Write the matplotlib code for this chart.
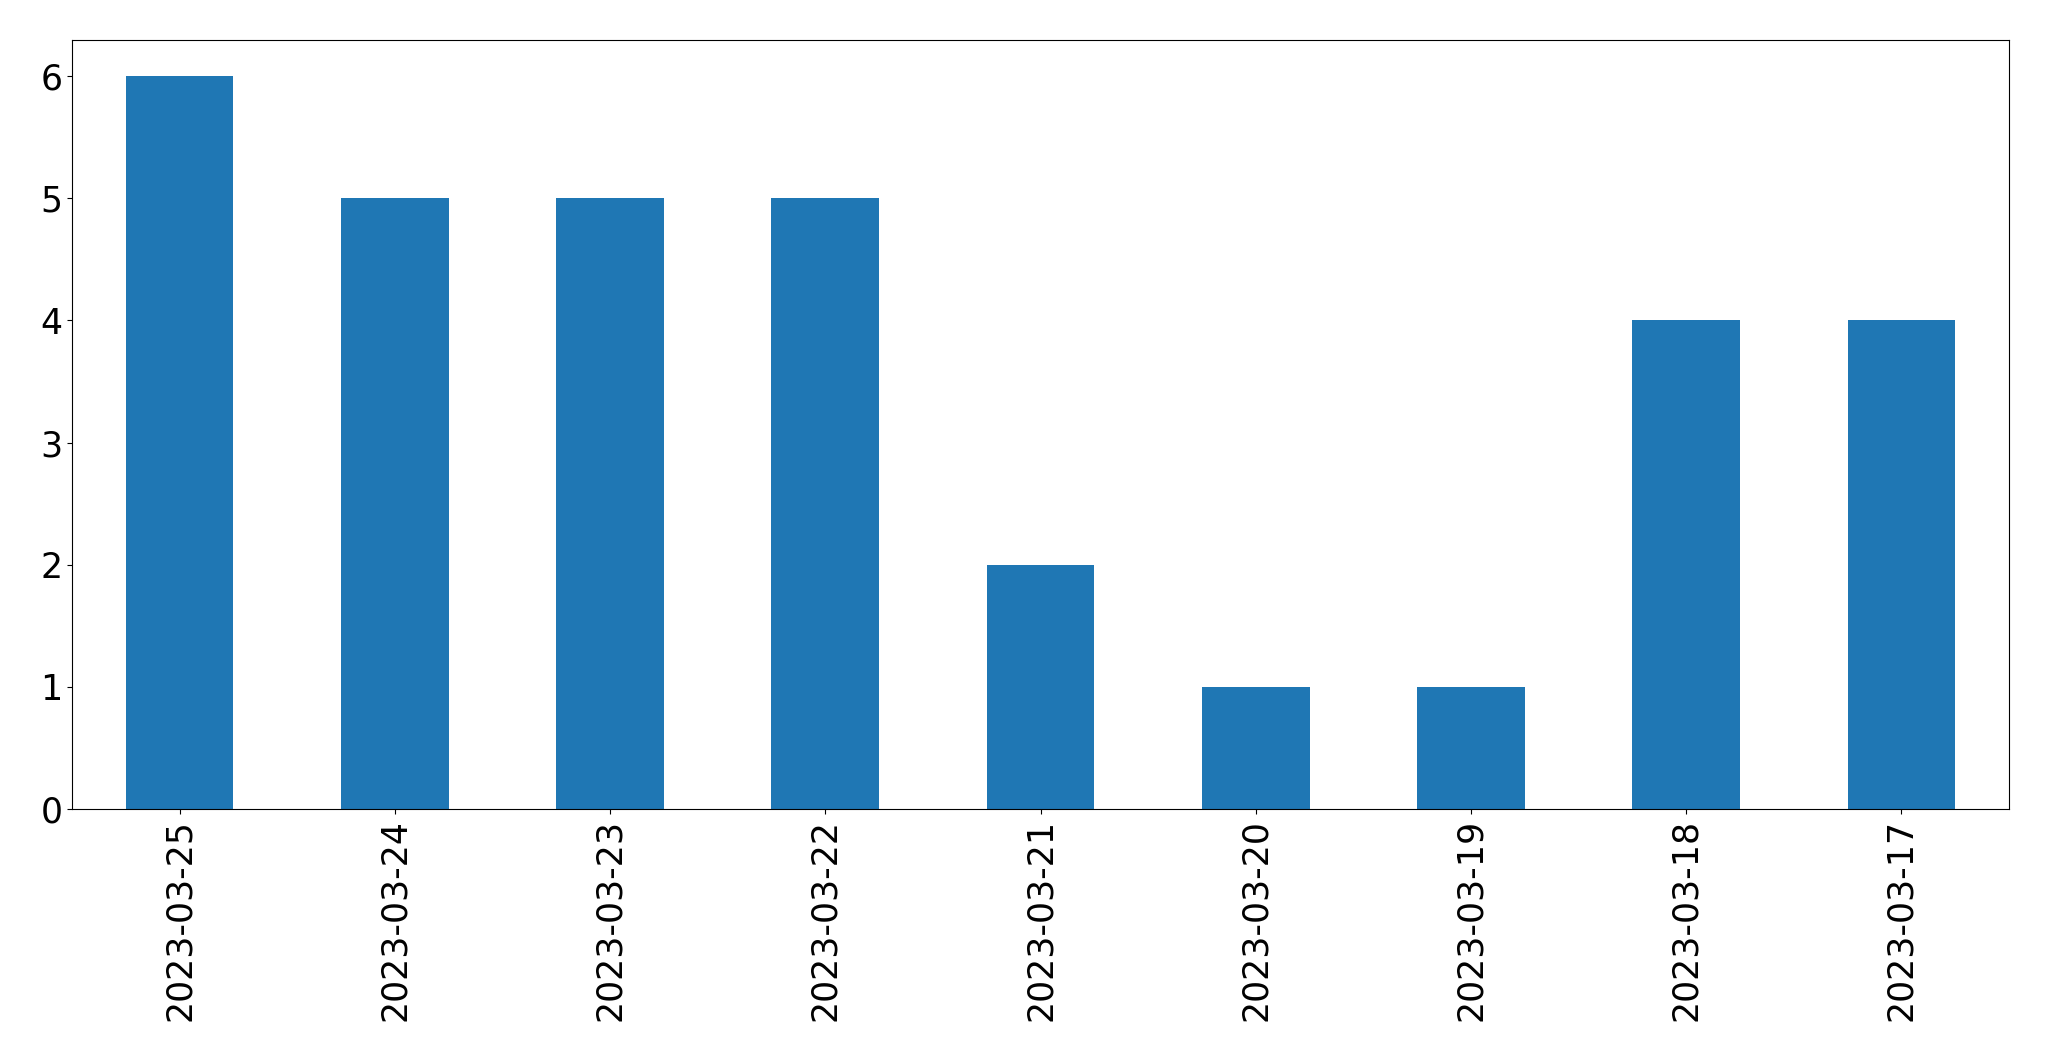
import matplotlib
matplotlib.use("Agg")
import matplotlib.pyplot as plt
import pandas as pd

# daily counts, newest first
dates = ["2023-03-25", "2023-03-24", "2023-03-23", "2023-03-22", "2023-03-21",
         "2023-03-20", "2023-03-19", "2023-03-18", "2023-03-17"]
counts = [6, 5, 5, 5, 2, 1, 1, 4, 4]

s = pd.Series(counts, index=dates)

fig = plt.figure(figsize=(20.49, 10.61), dpi=100)
ax = fig.add_axes([72 / 2049, 1 - 809 / 1061, (2009 - 72) / 2049, (809 - 39.5) / 1061])
s.plot(kind="bar", ax=ax, fontsize=25)
fig.savefig("out.png", dpi=100)
